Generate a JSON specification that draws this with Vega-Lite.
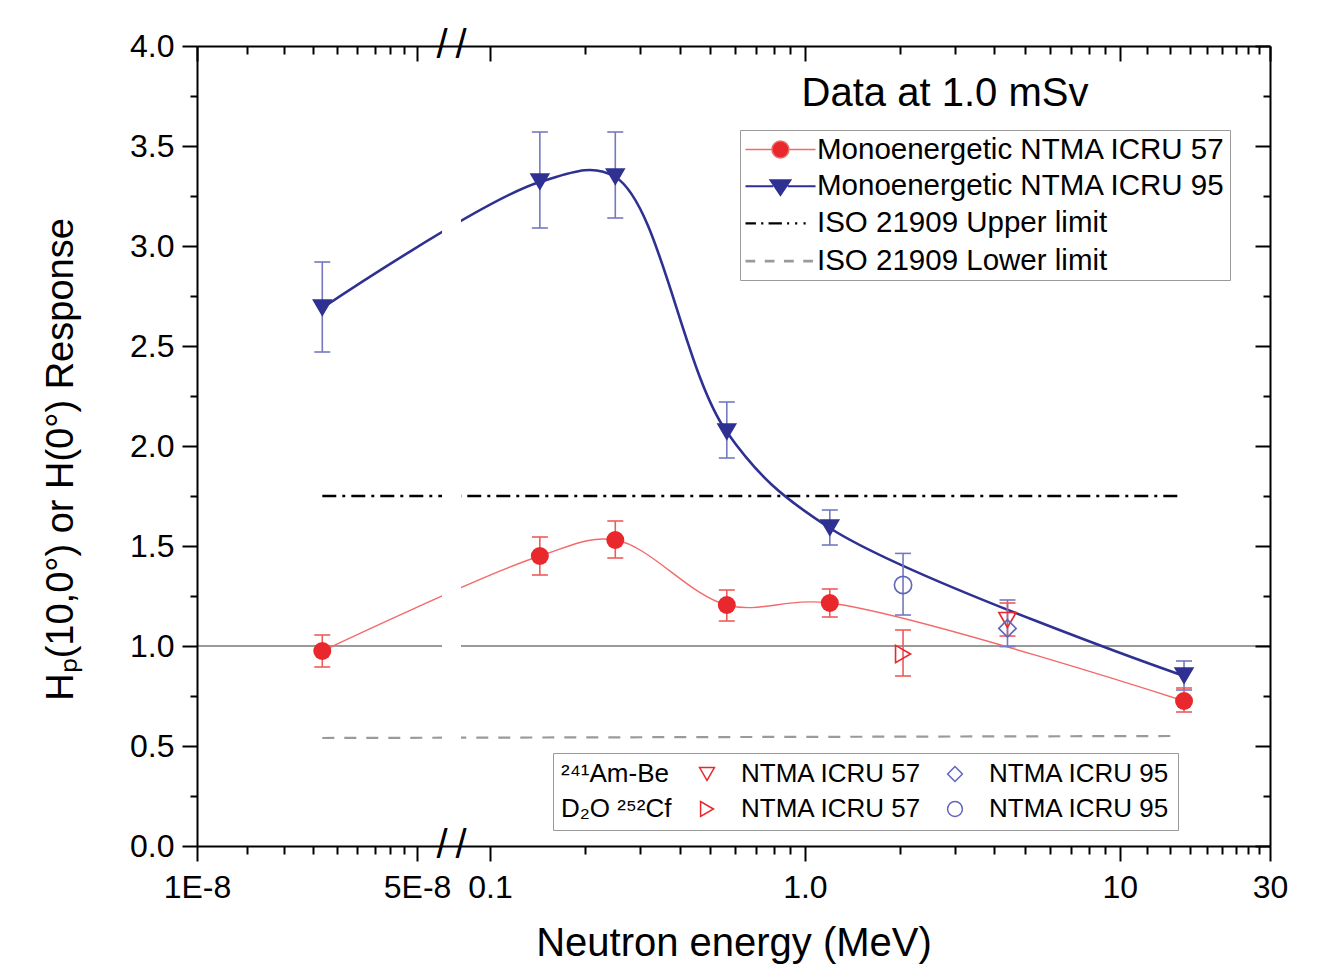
{
  "$schema": "https://vega.github.io/schema/vega-lite/v6.json",
  "width": 1073,
  "height": 800,
  "autosize": "none",
  "padding": {"left": 197, "top": 46, "right": 72, "bottom": 118},
  "background": "white",
  "config": {
    "view": {"stroke": null},
    "font": "Liberation Sans",
    "axis": {"labelFont": "Liberation Sans", "titleFont": "Liberation Sans", "titleFontWeight": "normal", "labelColor": "black", "titleColor": "black", "tickColor": "black", "domainColor": "black", "grid": false},
    "legend": {"labelFont": "Liberation Sans", "titleFont": "Liberation Sans", "labelColor": "black", "titleColor": "black"}
  },
  "datasets": {
    "pts": [
      {"series": "mono57", "icru": "57", "E": 2.5e-8, "R": 0.975, "lo": 0.895, "hi": 1.055},
      {"series": "mono57", "icru": "57", "E": 0.144, "R": 1.45, "lo": 1.355, "hi": 1.545},
      {"series": "mono57", "icru": "57", "E": 0.25, "R": 1.53, "lo": 1.44, "hi": 1.625},
      {"series": "mono57", "icru": "57", "E": 0.565, "R": 1.205, "lo": 1.125, "hi": 1.28},
      {"series": "mono57", "icru": "57", "E": 1.2, "R": 1.215, "lo": 1.145, "hi": 1.285},
      {"series": "mono57", "icru": "57", "E": 16, "R": 0.725, "lo": 0.67, "hi": 0.79},
      {"series": "mono95", "icru": "95", "E": 2.5e-8, "R": 2.69, "lo": 2.47, "hi": 2.92},
      {"series": "mono95", "icru": "95", "E": 0.144, "R": 3.32, "lo": 3.09, "hi": 3.57},
      {"series": "mono95", "icru": "95", "E": 0.25, "R": 3.345, "lo": 3.14, "hi": 3.57},
      {"series": "mono95", "icru": "95", "E": 0.565, "R": 2.07, "lo": 1.94, "hi": 2.22},
      {"series": "mono95", "icru": "95", "E": 1.2, "R": 1.59, "lo": 1.505, "hi": 1.68},
      {"series": "mono95", "icru": "95", "E": 16, "R": 0.85, "lo": 0.78, "hi": 0.925},
      {"series": "ambe57", "icru": "57", "E": 4.4, "R": 1.13, "lo": 1.05, "hi": 1.215},
      {"series": "ambe95", "icru": "95", "E": 4.4, "R": 1.088, "lo": 0.997, "hi": 1.23},
      {"series": "cf57", "icru": "57", "E": 2.05, "R": 0.96, "lo": 0.85, "hi": 1.08},
      {"series": "cf95", "icru": "95", "E": 2.05, "R": 1.305, "lo": 1.155, "hi": 1.463}
    ],
    "limits": [
      {"limit": "upper", "E": 2.5e-8, "R": 1.75},
      {"limit": "upper", "E": 15.3, "R": 1.75},
      {"limit": "lower", "E": 2.5e-8, "R": 0.54},
      {"limit": "lower", "E": 14.8, "R": 0.55}
    ],
    "leg": [
      {"leg": "Monoenergetic NTMA ICRU 57"},
      {"leg": "Monoenergetic NTMA ICRU 95"},
      {"leg": "ISO 21909 Upper limit"},
      {"leg": "ISO 21909 Lower limit"}
    ]
  },
  "resolve": {
    "scale": {"x": "shared", "y": "shared", "color": "independent", "shape": "independent", "fill": "independent", "stroke": "independent", "strokeWidth": "independent"},
    "axis": {"x": "independent", "y": "independent"}
  },
  "layer": [
    {
      "data": {"name": "limits"},
      "transform": [{"filter": "datum.limit == 'upper'"}],
      "mark": {"type": "line", "color": "black", "strokeWidth": 2.5, "strokeDash": [14, 6, 3, 6]},
      "encoding": {
        "x": {"field": "E", "type": "quantitative", "scale": {"type": "log", "domain": [1e-8, 6e-8, 0.0809, 30], "range": [0, 245, 264, 1073], "nice": false},
          "axis": {"orient": "bottom", "offset": -800, "values": [1e-8, 5e-8, 0.1, 1, 10, 30], "labels": false, "tickSize": 15, "tickWidth": 2, "domain": true, "domainWidth": 2, "title": null, "zindex": 1}},
        "y": {"field": "R", "type": "quantitative", "scale": {"domain": [0, 4], "nice": false, "zero": false},
          "axis": {"orient": "left", "offset": -1073, "values": [0, 0.5, 1, 1.5, 2, 2.5, 3, 3.5, 4], "labels": false, "tickSize": 15, "tickWidth": 2, "domain": true, "domainWidth": 2, "title": null, "zindex": 1}}
      }
    },
    {
      "data": {"name": "limits"},
      "transform": [{"filter": "datum.limit == 'lower'"}],
      "mark": {"type": "line", "color": "#9a9a9a", "strokeWidth": 2.2, "strokeDash": [12, 10]},
      "encoding": {
        "x": {"field": "E", "type": "quantitative", "scale": {"type": "log", "domain": [1e-8, 6e-8, 0.0809, 30], "range": [0, 245, 264, 1073], "nice": false},
          "axis": {"orient": "bottom", "offset": -800, "values": [1.444e-8, 1.889e-8, 2.333e-8, 2.778e-8, 3.222e-8, 3.667e-8, 4.111e-8, 4.556e-8, 0.2, 0.3, 0.4, 0.5, 0.6, 0.7, 0.8, 0.9, 2, 3, 4, 5, 6, 7, 8, 9, 12.22, 14.44, 16.67, 18.89, 21.11, 23.33, 25.56, 27.78], "labels": false, "tickSize": 8, "tickWidth": 2, "domain": false, "title": null, "zindex": 1}},
        "y": {"field": "R", "type": "quantitative", "scale": {"domain": [0, 4], "nice": false, "zero": false},
          "axis": {"orient": "left", "offset": -1073, "values": [0.25, 0.75, 1.25, 1.75, 2.25, 2.75, 3.25, 3.75], "labels": false, "tickSize": 7, "tickWidth": 2, "domain": false, "title": null, "zindex": 1}}
      }
    },
    {
      "data": {"values": [{}]},
      "mark": {"type": "rule", "color": "#9a9a9a", "strokeWidth": 2.2},
      "encoding": {"y": {"datum": 1, "axis": null}}
    },
    {
      "data": {"name": "pts"},
      "transform": [{"filter": "datum.series == 'mono57'"}],
      "mark": {"type": "line", "color": "#f26b6b", "strokeWidth": 1.4, "interpolate": "catmull-rom"},
      "encoding": {
        "x": {"field": "E", "type": "quantitative", "scale": {"type": "log", "domain": [1e-8, 6e-8, 0.0809, 30], "range": [0, 245, 264, 1073], "nice": false},
          "axis": {"orient": "bottom", "values": [1e-8, 5e-8, 0.1, 1, 10, 30], "labelExpr": "datum.value < 2e-8 ? '1E-8' : datum.value < 1e-7 ? '5E-8' : datum.value < 0.5 ? '0.1' : datum.value < 5 ? '1.0' : datum.value < 20 ? '10' : '30'", "tickSize": 15, "tickWidth": 2, "domain": true, "domainWidth": 2, "labelFontSize": 32, "labelPadding": 11, "labelFlush": false, "labelOverlap": false, "title": "Neutron energy (MeV)", "titleFontSize": 40, "titlePadding": 20, "zindex": 1}},
        "y": {"field": "R", "type": "quantitative", "scale": {"domain": [0, 4], "nice": false, "zero": false},
          "axis": {"orient": "left", "values": [0, 0.5, 1, 1.5, 2, 2.5, 3, 3.5, 4], "format": ".1f", "tickSize": 15, "tickWidth": 2, "domain": true, "domainWidth": 2, "labelFontSize": 32, "labelPadding": 8, "labelFlush": false, "labelOverlap": false, "title": "Hₚ(10,0°) or H(0°) Response", "titleFontSize": 38, "titlePadding": 49, "titleY": 413, "zindex": 1}}
      }
    },
    {
      "data": {"name": "pts"},
      "transform": [{"filter": "datum.series == 'mono95'"}],
      "mark": {"type": "line", "color": "#2e3192", "strokeWidth": 2.6, "interpolate": "catmull-rom"},
      "encoding": {
        "x": {"field": "E", "type": "quantitative", "scale": {"type": "log", "domain": [1e-8, 6e-8, 0.0809, 30], "range": [0, 245, 264, 1073], "nice": false},
          "axis": {"orient": "bottom", "values": [1.444e-8, 1.889e-8, 2.333e-8, 2.778e-8, 3.222e-8, 3.667e-8, 4.111e-8, 4.556e-8, 0.2, 0.3, 0.4, 0.5, 0.6, 0.7, 0.8, 0.9, 2, 3, 4, 5, 6, 7, 8, 9, 12.22, 14.44, 16.67, 18.89, 21.11, 23.33, 25.56, 27.78], "labels": false, "tickSize": 8, "tickWidth": 2, "domain": false, "title": null, "zindex": 1}},
        "y": {"field": "R", "type": "quantitative", "scale": {"domain": [0, 4], "nice": false, "zero": false},
          "axis": {"orient": "left", "values": [0.25, 0.75, 1.25, 1.75, 2.25, 2.75, 3.25, 3.75], "labels": false, "tickSize": 7, "tickWidth": 2, "domain": false, "title": null, "zindex": 1}}
      }
    },
    {
      "data": {"values": [{}]},
      "mark": {"type": "rect", "fill": "white", "stroke": null, "opacity": 1},
      "encoding": {
        "x": {"datum": 6e-8, "axis": null},
        "x2": {"datum": 0.0809},
        "y": {"datum": 0, "axis": null},
        "y2": {"datum": 4}
      }
    },
    {
      "data": {"name": "pts"},
      "mark": {"type": "rule", "strokeWidth": 1.6},
      "encoding": {
        "x": {"field": "E", "type": "quantitative", "axis": null},
        "y": {"field": "lo", "type": "quantitative", "axis": null},
        "y2": {"field": "hi"},
        "color": {"field": "icru", "type": "nominal", "scale": {"domain": ["57", "95"], "range": ["#ef5b5b", "#7479c0"]}, "legend": null}
      }
    },
    {
      "data": {"name": "pts"},
      "mark": {"type": "tick", "orient": "horizontal", "size": 16, "thickness": 1.6, "opacity": 1},
      "encoding": {
        "x": {"field": "E", "type": "quantitative", "axis": null},
        "y": {"field": "lo", "type": "quantitative", "axis": null},
        "color": {"field": "icru", "type": "nominal", "scale": {"domain": ["57", "95"], "range": ["#ef5b5b", "#7479c0"]}, "legend": null}
      }
    },
    {
      "data": {"name": "pts"},
      "mark": {"type": "tick", "orient": "horizontal", "size": 16, "thickness": 1.6, "opacity": 1},
      "encoding": {
        "x": {"field": "E", "type": "quantitative", "axis": null},
        "y": {"field": "hi", "type": "quantitative", "axis": null},
        "color": {"field": "icru", "type": "nominal", "scale": {"domain": ["57", "95"], "range": ["#ef5b5b", "#7479c0"]}, "legend": null}
      }
    },
    {
      "data": {"name": "pts"},
      "transform": [{"filter": "datum.series == 'mono57'"}],
      "mark": {"type": "point", "shape": "circle", "filled": true, "color": "#e8282c", "size": 324, "opacity": 1},
      "encoding": {
        "x": {"field": "E", "type": "quantitative", "axis": null},
        "y": {"field": "R", "type": "quantitative", "axis": null}
      }
    },
    {
      "data": {"name": "pts"},
      "transform": [{"filter": "datum.series == 'mono95'"}],
      "mark": {"type": "point", "shape": "triangle-down", "filled": true, "color": "#2e3192", "size": 420, "opacity": 1},
      "encoding": {
        "x": {"field": "E", "type": "quantitative", "axis": null},
        "y": {"field": "R", "type": "quantitative", "axis": null}
      }
    },
    {
      "data": {"name": "pts"},
      "transform": [{"filter": {"field": "series", "oneOf": ["ambe57", "ambe95", "cf57", "cf95"]}}],
      "mark": {"type": "point", "filled": false, "strokeWidth": 1.6, "size": 300, "opacity": 1},
      "encoding": {
        "x": {"field": "E", "type": "quantitative", "axis": null},
        "y": {"field": "R", "type": "quantitative", "axis": null},
        "color": {"field": "series", "type": "nominal", "scale": {"domain": ["ambe57", "cf57", "ambe95", "cf95"], "range": ["#e8282c", "#e8282c", "#6065b8", "#6065b8"]},
          "legend": {"orient": "none", "legendX": 356, "legendY": 707, "title": ["²⁴¹Am-Be", "D₂O ²⁵²Cf"], "titleOrient": "left", "titleAnchor": "start", "titleBaseline": "top", "titleLineHeight": 35, "titlePadding": 22, "titleFontSize": 26, "titleFontWeight": "normal", "titleAlign": "left", "columns": 2, "columnPadding": 20, "rowPadding": 9, "labelFontSize": 26, "labelOffset": 21, "labelLimit": 0, "labelExpr": "indexof(datum.label, '57') >= 0 ? 'NTMA ICRU 57' : 'NTMA ICRU 95'", "symbolSize": 220, "symbolStrokeWidth": 1.5, "padding": 8, "strokeColor": "#9a9a9a", "fillColor": "white", "symbolOpacity": 1}},
        "shape": {"field": "series", "type": "nominal", "scale": {"domain": ["ambe57", "cf57", "ambe95", "cf95"], "range": ["triangle-down", "triangle-right", "diamond", "circle"]}}
      }
    },
    {
      "data": {"name": "leg"},
      "mark": {"type": "point", "opacity": 1},
      "encoding": {
        "x": {"field": "E", "type": "quantitative", "axis": null},
        "y": {"field": "R", "type": "quantitative", "axis": null},
        "fill": {"field": "leg", "type": "nominal", "scale": {"domain": ["Monoenergetic NTMA ICRU 57", "Monoenergetic NTMA ICRU 95", "ISO 21909 Upper limit", "ISO 21909 Lower limit"], "range": ["#e8282c", "#2e3192", "transparent", "transparent"]},
          "legend": {"orient": "none", "legendX": 543, "legendY": 84, "title": null, "labelFontSize": 29.5, "symbolSize": 841, "labelOffset": 41, "rowPadding": 6.7, "padding": 4, "strokeColor": "#9a9a9a", "fillColor": "white", "labelLimit": 0, "symbolOpacity": 1}},
        "stroke": {"field": "leg", "type": "nominal", "scale": {"domain": ["Monoenergetic NTMA ICRU 57", "Monoenergetic NTMA ICRU 95", "ISO 21909 Upper limit", "ISO 21909 Lower limit"], "range": ["#f26b6b", "#2e3192", "#000000", "#9a9a9a"]}},
        "strokeWidth": {"field": "leg", "type": "nominal", "scale": {"domain": ["Monoenergetic NTMA ICRU 57", "Monoenergetic NTMA ICRU 95", "ISO 21909 Upper limit", "ISO 21909 Lower limit"], "range": [1.5, 2.6, 2, 2]}},
        "shape": {"field": "leg", "type": "nominal", "scale": {"domain": ["Monoenergetic NTMA ICRU 57", "Monoenergetic NTMA ICRU 95", "ISO 21909 Upper limit", "ISO 21909 Lower limit"], "range": [
          "M-1,0H0.81M2.01,0H3.83M0.824,0A0.586,0.586 0 1,1 1.996,0A0.586,0.586 0 1,1 0.824,0Z",
          "M-1,0H0.91M1.91,0H3.83M0.72,-0.41L2.1,-0.41L1.41,0.62Z",
          "M-1,0H-0.28M0.08,0H0.23M0.59,0H1.51M1.87,0H2.01M2.42,0H2.57M3.0,0H3.15",
          "M-1,0H-0.33M0.33,0H1.0M1.65,0H2.33M2.98,0H3.65"
        ]}}
      }
    },
    {
      "data": {"values": [{}]},
      "mark": {"type": "text", "text": "/\u2009/", "fontSize": 40, "font": "Liberation Sans", "color": "black", "align": "center", "baseline": "middle"},
      "encoding": {
        "x": {"datum": 7e-5, "axis": null},
        "y": {"datum": 4, "axis": null}
      }
    },
    {
      "data": {"values": [{}]},
      "mark": {"type": "text", "text": "/\u2009/", "fontSize": 40, "font": "Liberation Sans", "color": "black", "align": "center", "baseline": "middle"},
      "encoding": {
        "x": {"datum": 7e-5, "axis": null},
        "y": {"datum": 0, "axis": null}
      }
    },
    {
      "data": {"values": [{}]},
      "mark": {"type": "text", "text": "Data at 1.0 mSv", "fontSize": 40, "font": "Liberation Sans", "color": "black", "align": "center", "baseline": "alphabetic"},
      "encoding": {
        "x": {"datum": 2.786, "axis": null},
        "y": {"datum": 3.7, "axis": null}
      }
    }
  ]
}
